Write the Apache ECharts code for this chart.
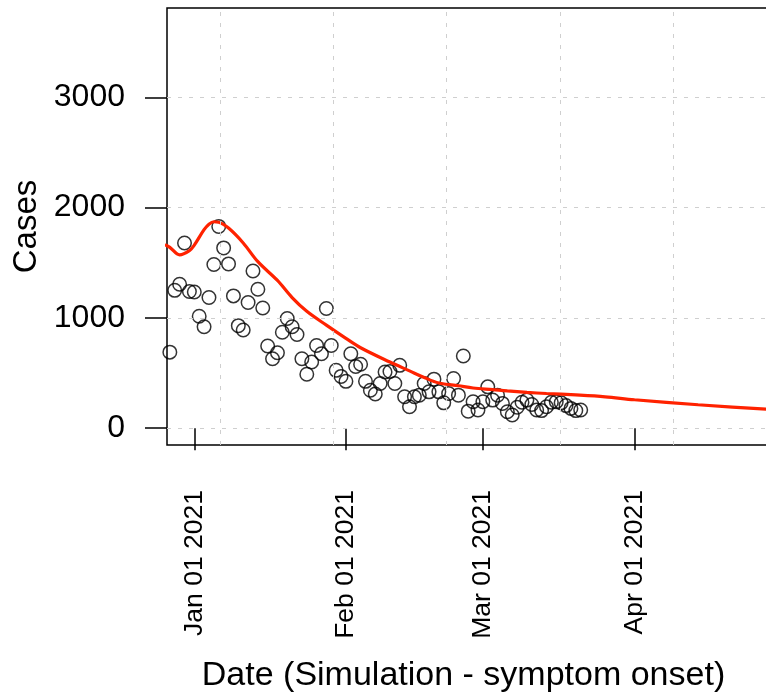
<!DOCTYPE html>
<html>
<head>
<meta charset="utf-8">
<script src="https://cdn.jsdelivr.net/npm/echarts@6/dist/echarts.min.js"></script>
<style>
  html, body { margin: 0; padding: 0; background: #fff; }
  #chart { width: 766px; height: 695px; }
</style>
</head>
<body>
<div id="chart"></div>
<script>
// Daily symptom-onset case counts (open circles)
const caseDates = [
  '2020-12-26','2020-12-27','2020-12-28','2020-12-29','2020-12-30','2020-12-31',
  '2021-01-01','2021-01-02','2021-01-03','2021-01-04','2021-01-05','2021-01-06','2021-01-07','2021-01-08',
  '2021-01-09','2021-01-10','2021-01-11','2021-01-12','2021-01-13','2021-01-14','2021-01-15','2021-01-16',
  '2021-01-17','2021-01-18','2021-01-19','2021-01-20','2021-01-21','2021-01-22','2021-01-23','2021-01-24',
  '2021-01-25','2021-01-26','2021-01-27','2021-01-28','2021-01-29','2021-01-30','2021-01-31',
  '2021-02-01','2021-02-02','2021-02-03','2021-02-04','2021-02-05','2021-02-06','2021-02-07','2021-02-08',
  '2021-02-09','2021-02-10','2021-02-11','2021-02-12','2021-02-13','2021-02-14','2021-02-15','2021-02-16',
  '2021-02-17','2021-02-18','2021-02-19','2021-02-20','2021-02-21','2021-02-22','2021-02-23','2021-02-24',
  '2021-02-25','2021-02-26','2021-02-27','2021-02-28',
  '2021-03-01','2021-03-02','2021-03-03','2021-03-04','2021-03-05','2021-03-06','2021-03-07','2021-03-08',
  '2021-03-09','2021-03-10','2021-03-11','2021-03-12','2021-03-13','2021-03-14','2021-03-15','2021-03-16',
  '2021-03-17','2021-03-18','2021-03-19','2021-03-20','2021-03-21'
];
const caseCounts = [
  740, 690, 1250, 1305, 1680, 1240,
  1235, 1015, 920, 1185, 1485, 1830, 1635, 1490, 1200, 930, 890, 1140, 1425, 1260, 1090, 745,
  630, 685, 870, 995, 920, 850, 630, 490, 600, 750, 675, 1085, 750, 525, 470,
  425, 675, 560, 580, 425, 345, 310, 405, 510, 515, 405, 570, 285, 195, 285, 300,
  405, 330, 445, 330, 230, 315, 450, 300, 655, 155, 240, 165,
  240, 375, 255, 300, 225, 150, 120, 190, 235, 255, 215, 165, 160, 195, 235, 240,
  230, 205, 180, 160, 165
];

// Simulated curve (red line)
const simDates = [
  '2020-12-26','2020-12-27','2020-12-29','2020-12-31','2021-01-01','2021-01-03','2021-01-04',
  '2021-01-05','2021-01-06','2021-01-08','2021-01-11','2021-01-14','2021-01-18','2021-01-21',
  '2021-01-24','2021-01-28','2021-02-01','2021-02-04','2021-02-10','2021-02-14','2021-02-17',
  '2021-02-20','2021-02-24','2021-02-27','2021-03-03','2021-03-06','2021-03-10','2021-03-14',
  '2021-03-20','2021-03-26','2021-04-01','2021-04-14','2021-04-28','2021-05-01'
];
const simCases = [
  1665, 1640, 1572, 1610, 1660, 1800, 1850,
  1872, 1868, 1815, 1680, 1510, 1340, 1185,
  1060, 935, 815, 730, 600, 520, 460,
  410, 385, 365, 350, 338, 325, 315,
  302, 285, 258, 213, 172, 162
];

// Axis ticks and background grid
const xTickDates = ['2021-01-01', '2021-02-01', '2021-03-01', '2021-04-01'];
const yTicks = [0, 1000, 2000, 3000];
const xGridDates = ['2021-01-06T06:14', '2021-01-29T09:50', '2021-02-21T13:40', '2021-03-16T17:17', '2021-04-08T20:53'];

const DAY = 86400000;
const toTime = s => Date.parse(s.length === 10 ? s + 'T00:00:00Z' : s + ':00Z');
const origin = Date.UTC(2021, 0, 1);
const xMin = origin - 5.58 * DAY;
const xMax = origin + 117.7 * DAY;
const MONTHS = ['Jan','Feb','Mar','Apr','May','Jun','Jul','Aug','Sep','Oct','Nov','Dec'];
const fmtDate = v => {
  const d = new Date(v);
  const dd = String(d.getUTCDate()).padStart(2, '0');
  return MONTHS[d.getUTCMonth()] + ' ' + dd + ' ' + d.getUTCFullYear();
};

const FONT = 'Liberation Sans, Arial, Helvetica, sans-serif';
const gridStyle = { color: '#cfcfcf', width: 1, type: [4, 7] };

const chart = echarts.init(document.getElementById('chart'), null, { renderer: 'canvas' });
chart.setOption({
  animation: false,
  backgroundColor: '#ffffff',
  textStyle: { fontFamily: FONT },
  grid: {
    left: 167, top: 8, width: 603, height: 437,
    containLabel: false, outerBoundsMode: 'none',
    show: true, borderColor: '#000', borderWidth: 1.5, backgroundColor: 'transparent'
  },
  xAxis: {
    type: 'value',
    min: xMin, max: xMax,
    axisLine: { show: false },
    splitLine: { show: false },
    axisTick: {
      show: true, length: 22, inside: false,
      customValues: xTickDates.map(toTime),
      lineStyle: { color: '#000', width: 1.5 }
    },
    axisLabel: {
      customValues: xTickDates.map(toTime),
      rotate: 90, margin: 45, fontSize: 26.5, color: '#000', fontFamily: FONT,
      formatter: v => fmtDate(v)
    },
    name: 'Date (Simulation - symptom onset)',
    nameLocation: 'middle', nameGap: 214,
    nameTextStyle: { fontSize: 34, color: '#000', fontFamily: FONT, padding: [0, 10, 0, 0] }
  },
  yAxis: {
    type: 'value',
    min: -152, max: 3810,
    axisLine: { show: false },
    splitLine: { show: false },
    axisTick: {
      show: true, length: 22,
      customValues: yTicks,
      lineStyle: { color: '#000', width: 1.5 }
    },
    axisLabel: {
      customValues: yTicks,
      margin: 42, fontSize: 32, color: '#000', fontFamily: FONT,
      formatter: v => String(v)
    },
    name: 'Cases',
    nameLocation: 'middle', nameGap: 122, nameRotate: 90,
    nameTextStyle: { fontSize: 33, color: '#000', fontFamily: FONT }
  },
  series: [
    {
      name: 'grid',
      type: 'line',
      data: [],
      z: 1,
      silent: true,
      markLine: {
        silent: true,
        symbol: ['none', 'none'],
        label: { show: false },
        lineStyle: gridStyle,
        data: xGridDates.map(s => ({ xAxis: toTime(s) }))
          .concat(yTicks.map(v => ({ yAxis: v })))
      }
    },
    {
      name: 'Cases',
      type: 'scatter',
      z: 2,
      symbol: 'circle',
      symbolSize: 13.5,
      itemStyle: { color: 'rgba(0,0,0,0)', borderColor: '#000', borderWidth: 1.5 },
      data: caseDates.map((d, i) => [toTime(d), caseCounts[i]])
    },
    {
      name: 'Simulation',
      type: 'line',
      z: 3,
      smooth: 0.35,
      showSymbol: false,
      clip: true,
      lineStyle: { color: '#ff2200', width: 3.2 },
      data: simDates.map((d, i) => [toTime(d), simCases[i]])
    }
  ]
});
</script>
</body>
</html>
